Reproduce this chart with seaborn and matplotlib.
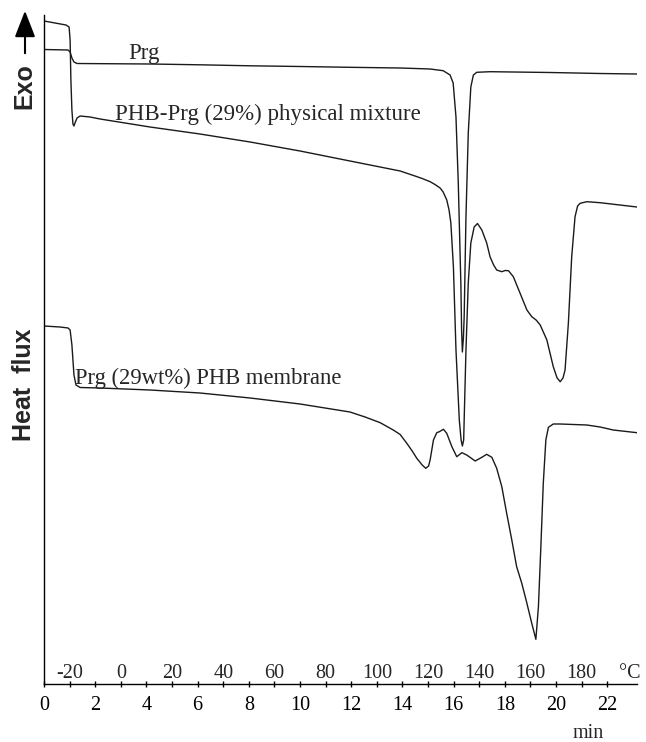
import matplotlib
matplotlib.use("Agg")
import matplotlib.pyplot as plt
import seaborn as sns
import pandas as pd
from matplotlib.transforms import blended_transform_factory

# ---------------- data (time in min, heat flux in arbitrary units, exo up) ----------------
time_prg = [0, 0.94, 1.02, 1.09, 1.17, 1.29, 1.80, 4.14, 6.09, 8.05, 10.0, 11.95, 13.91,
            15.08, 15.59, 15.86, 15.98, 16.09, 16.18, 16.28, 16.31, 16.34, 16.38, 16.41,
            16.48, 16.57, 16.67, 16.77, 16.90, 17.42, 19.77, 21.72, 23.16]
hf_prg = [-4.95, -5.0, -5.2, -5.8, -6.2, -6.35, -6.36, -6.4, -6.48, -6.58, -6.65, -6.73, -6.8,
          -6.9, -7.07, -7.5, -8.3, -11.7, -18.3, -28.3, -33.0, -35.2, -33.8, -31.7,
          -21.7, -13.3, -8.7, -7.5, -7.23, -7.17, -7.25, -7.35, -7.4]

time_mix = [0, 0.43, 0.86, 0.98, 1.02, 1.05, 1.09, 1.13, 1.17, 1.21,
            1.29, 1.41, 1.80, 2.19, 4.14, 6.09, 8.05, 10.0, 11.95, 13.91,
            14.49, 14.77, 15.08, 15.27, 15.47, 15.59, 15.73, 15.82, 15.89, 15.99,
            16.09, 16.22, 16.29, 16.34, 16.39,
            16.48, 16.57, 16.67, 16.80, 16.93, 17.10, 17.29, 17.42, 17.56, 17.68,
            17.88, 18.01, 18.14, 18.33, 18.59, 18.86, 19.05, 19.22, 19.38, 19.64,
            19.89, 20.04, 20.16, 20.27, 20.35, 20.48, 20.61, 20.74, 20.84, 20.94,
            21.20, 21.72, 23.16]
hf_mix = [-2.1, -2.3, -2.5, -2.7, -4.0, -8.0, -11.0, -12.4, -12.6, -12.3,
          -11.8, -11.6, -11.7, -11.9, -12.7, -13.4, -14.2, -15.1, -16.1, -17.1,
          -17.6, -17.85, -18.17, -18.45, -18.8, -19.2, -20.0, -21.0, -22.3, -26.7,
          -35.0, -42.0, -44.0, -44.6, -44.0,
          -35.0, -28.3, -24.3, -22.7, -22.35, -23.0, -24.3, -25.67, -26.5, -27.0,
          -27.17, -27.05, -27.07, -27.67, -29.3, -31.0, -31.67, -32.0, -32.5, -34.0,
          -36.67, -37.8, -38.17, -37.8, -37.0, -32.3, -25.67, -21.67, -20.6, -20.33,
          -20.17, -20.27, -20.7]

time_mem = [0, 0.625, 0.94, 1.02, 1.09, 1.17, 1.25, 1.41, 2.19, 4.14,
            6.09, 8.05, 10.0, 11.95, 12.54, 13.13, 13.64, 13.91, 14.17, 14.38,
            14.56, 14.77, 14.91,
            15.02, 15.08, 15.21, 15.34, 15.44, 15.60, 15.73, 15.93, 16.12, 16.32,
            16.51, 16.84, 17.10, 17.29, 17.49, 17.68, 17.88, 18.07, 18.27, 18.46,
            18.66, 18.86, 19.05, 19.21, 19.31, 19.40, 19.50, 19.60, 19.70, 19.89,
            20.16, 21.20, 21.72, 22.23, 23.16]
hf_mem = [-32.6, -32.7, -32.8, -33.0, -34.5, -37.5, -38.5, -38.75, -38.8, -39.0,
          -39.3, -39.8, -40.4, -41.2, -41.7, -42.27, -43.0, -43.45, -44.33, -45.1,
          -45.83, -46.5, -46.83,
          -46.6, -46.0, -44.0, -43.27, -43.17, -42.93, -43.33, -44.67, -45.67, -45.27,
          -45.5, -46.1, -45.73, -45.43, -45.73, -46.83, -48.67, -51.33, -54.0, -56.67,
          -58.33, -60.33, -62.33, -63.93, -60.67, -55.0, -48.33, -44.0, -42.73, -42.4,
          -42.4, -42.5, -42.7, -43.0, -43.27]

series_names = ["Prg", "PHB-Prg (29%) physical mixture", "Prg (29wt%) PHB membrane"]

time_ticks = [0, 2, 4, 6, 8, 10, 12, 14, 16, 18, 20, 22]
time_tick_labels = [str(v) for v in time_ticks]
temp_tick_pos = [1, 3, 5, 7, 9, 11, 13, 15, 17, 19, 21]
temp_labels = ["-20", "0", "20", "40", "60", "80", "100", "120", "140", "160", "180"]

# ---------------- figure ----------------
sns.set_theme(style="white")
plt.rcParams["font.family"] = ["Liberation Serif", "DejaVu Serif"]

W, H = 646, 742
fig = plt.figure(figsize=(W / 100, H / 100), dpi=100)
ax = fig.add_axes([44 / W, 58 / H, 593 / W, 669 / H])

frames = [
    pd.DataFrame({"time": time_prg, "hf": hf_prg, "sample": series_names[0]}),
    pd.DataFrame({"time": time_mix, "hf": hf_mix, "sample": series_names[1]}),
    pd.DataFrame({"time": time_mem, "hf": hf_mem, "sample": series_names[2]}),
]
for df in frames:
    sns.lineplot(data=df, x="time", y="hf", ax=ax, color="#1a1a1a", lw=1.0,
                 sort=False, estimator=None, legend=False)

ax.set_xlim(0, 23.16)
ax.set_ylim(-68.4, -1.5)
ax.set_xlabel("")
ax.set_ylabel("")
ax.set_yticks([])

ax.set_xticks(time_ticks)
ax.set_xticklabels(time_tick_labels, fontsize=14.5)
ax.set_xticks(temp_tick_pos, minor=True)
ax.tick_params(axis="x", which="both", direction="inout", length=5, width=1,
               color="black", pad=6, bottom=True, labelcolor="black")

for side in ["top", "right"]:
    ax.spines[side].set_visible(False)
for side in ["left", "bottom"]:
    ax.spines[side].set_color("black")
    ax.spines[side].set_linewidth(1.0)

trans = blended_transform_factory(ax.transData, ax.transAxes)
for p, lab in zip(temp_tick_pos, temp_labels):
    ax.text(p, 6 / 669, lab, transform=trans, ha="center", va="baseline", fontsize=14.5)
ax.text(23.3, 6 / 669, "°C", transform=trans, ha="right", va="baseline", fontsize=14.5,
        clip_on=False)

fig.text(588 / W, 4 / H, "min", ha="center", va="baseline", fontsize=14.5)

# curve labels
ax.text(3.28, -5.9, series_names[0], fontsize=16.5, va="baseline")
ax.text(2.77, -12.0, series_names[1], fontsize=16.5, va="baseline")
ax.text(1.21, -38.4, series_names[2], fontsize=16.3, va="baseline")

# y label and Exo arrow
sans = ["Liberation Sans", "DejaVu Sans"]
fig.text(24 / W, 1 - 385 / H, "Heat  flux", rotation=90, fontsize=18, fontweight="bold",
         family=sans, ha="center", va="center")
fig.text(24 / W, 1 - 86 / H, "Exo", rotation=90, fontsize=18, fontweight="bold",
         family=sans, ha="center", va="center")
fig.patches.append(matplotlib.patches.FancyArrowPatch(
    (25 / W, 1 - 56 / H), (25 / W, 1 - 8 / H), transform=fig.transFigure,
    arrowstyle="-|>,head_length=0.9,head_width=0.35", mutation_scale=18,
    color="black", lw=1.5))

fig.savefig("out.png", dpi=100)
